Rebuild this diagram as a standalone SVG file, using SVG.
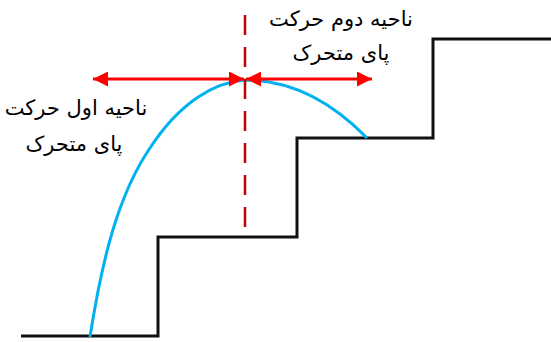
<svg xmlns="http://www.w3.org/2000/svg" width="551" height="342" viewBox="0 0 551 342">
<defs>
<marker id="ah" viewBox="0 0 10 10" refX="10" refY="5" markerWidth="5" markerHeight="5" orient="auto-start-reverse" markerUnits="strokeWidth">
<path d="M0,0 L10,5 L0,10 z" fill="#ff0000"/>
</marker>
<style>
.lbl{font-family:"DejaVu Sans",sans-serif;font-size:21px;fill:#000;text-anchor:middle;direction:rtl}
.stair{fill:none;stroke:#111;stroke-width:3}
.arrow{stroke:#ff0000;stroke-width:3;fill:none}
</style>
</defs>
<g id="stairs"><path class="stair" d="M21,336 H158 V237 H297 V138 H433 V39 H551"/></g>
<g id="trajectory"><path d="M90,337 C102,260 118,195 150,148 C180,102 215,82 245,80 C290,80 330,100 367,138" fill="none" stroke="#00b0f0" stroke-width="3"/></g>
<g id="axis"><line x1="245" y1="15" x2="245" y2="237" stroke="#c00000" stroke-width="2.5" stroke-dasharray="20,12"/></g>
<g id="connectors">
<line class="arrow" x1="93" y1="79" x2="244" y2="79" marker-start="url(#ah)" marker-end="url(#ah)"/>
<line class="arrow" x1="246" y1="79" x2="372" y2="79" marker-start="url(#ah)" marker-end="url(#ah)"/>
</g>
<g id="label-left">
<text class="lbl" x="76" y="115">ناحیه اول حرکت</text>
<text class="lbl" x="74" y="151">پای متحرک</text>
</g>
<g id="label-right">
<text class="lbl" x="341" y="26">ناحیه دوم حرکت</text>
<text class="lbl" x="341" y="60">پای متحرک</text>
</g>
</svg>
